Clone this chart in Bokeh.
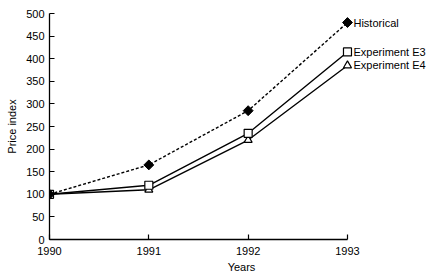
import math
from bokeh.plotting import figure
from bokeh.models import FixedTicker, ColumnDataSource
from bokeh.core.properties import value
from bokeh.embed import file_html
from bokeh.resources import INLINE

years = [1990, 1991, 1992, 1993]
historical = [100, 165, 285, 480]
exp_e3 = [100, 120, 235, 415]
exp_e4 = [100, 110, 220, 385]
series_names = ["Historical", "Experiment E3", "Experiment E4"]
y_ticks = [0, 50, 100, 150, 200, 250, 300, 350, 400, 450, 500]

FONT = "Liberation Sans"

p = figure(frame_width=384, frame_height=226, output_backend="svg", toolbar_location=None,
           x_range=(1990, 1993.866), y_range=(0, 500),
           min_border_left=49, min_border_right=0, min_border_top=13, min_border_bottom=36)
p.outline_line_color = None
p.grid.visible = False
p.background_fill_color = "white"
p.border_fill_color = "white"

p.xaxis.bounds = (1990, 1993)
p.xaxis.ticker = FixedTicker(ticks=years)
p.yaxis.ticker = FixedTicker(ticks=y_ticks)
for ax in (p.xaxis, p.yaxis):
    ax.major_tick_in = 5
    ax.major_tick_out = 0
    ax.minor_tick_line_color = None
    ax.axis_line_color = "black"
    ax.axis_line_width = 1.3
    ax.major_tick_line_color = "black"
    ax.major_tick_line_width = 1.2
    ax.major_label_text_font = FONT
    ax.major_label_text_font_size = "11px"
    ax.major_label_text_color = "black"
    ax.axis_label_text_font = FONT
    ax.axis_label_text_font_size = "11px"
    ax.axis_label_text_font_style = "normal"
    ax.axis_label_text_color = "black"
p.xaxis.axis_label = "Years"
p.yaxis.axis_label = "Price index"
p.xaxis.major_label_standoff = 7
p.xaxis.axis_label_standoff = 3
p.yaxis.major_label_standoff = 5
p.yaxis.axis_label_standoff = 5

# Experiment E4
p.line(years, exp_e4, line_color="black", line_width=1.4)
p.scatter(years, exp_e4, marker="triangle", size=8, fill_color="white", line_color="black", line_width=1.2)
# Experiment E3
p.line(years, exp_e3, line_color="black", line_width=1.4)
p.scatter(years, exp_e3, marker="square", size=8, fill_color="white", line_color="black", line_width=1.2)
# Historical
p.line(years, historical, line_color="black", line_width=1.4, line_dash="3 2")
p.scatter(years, historical, marker="square", angle=math.pi / 4, size=7, fill_color="black", line_color="black")

src = ColumnDataSource(dict(x=[years[-1]] * 3,
                            y=[historical[-1], exp_e3[-1], exp_e4[-1]],
                            t=series_names))
p.text(x="x", y="y", text="t", source=src, x_offset=6, text_baseline="middle",
       text_align="left", text_font=value(FONT), text_font_size="11px", text_color="black")

open("out.html", "w").write(file_html(p, INLINE))
